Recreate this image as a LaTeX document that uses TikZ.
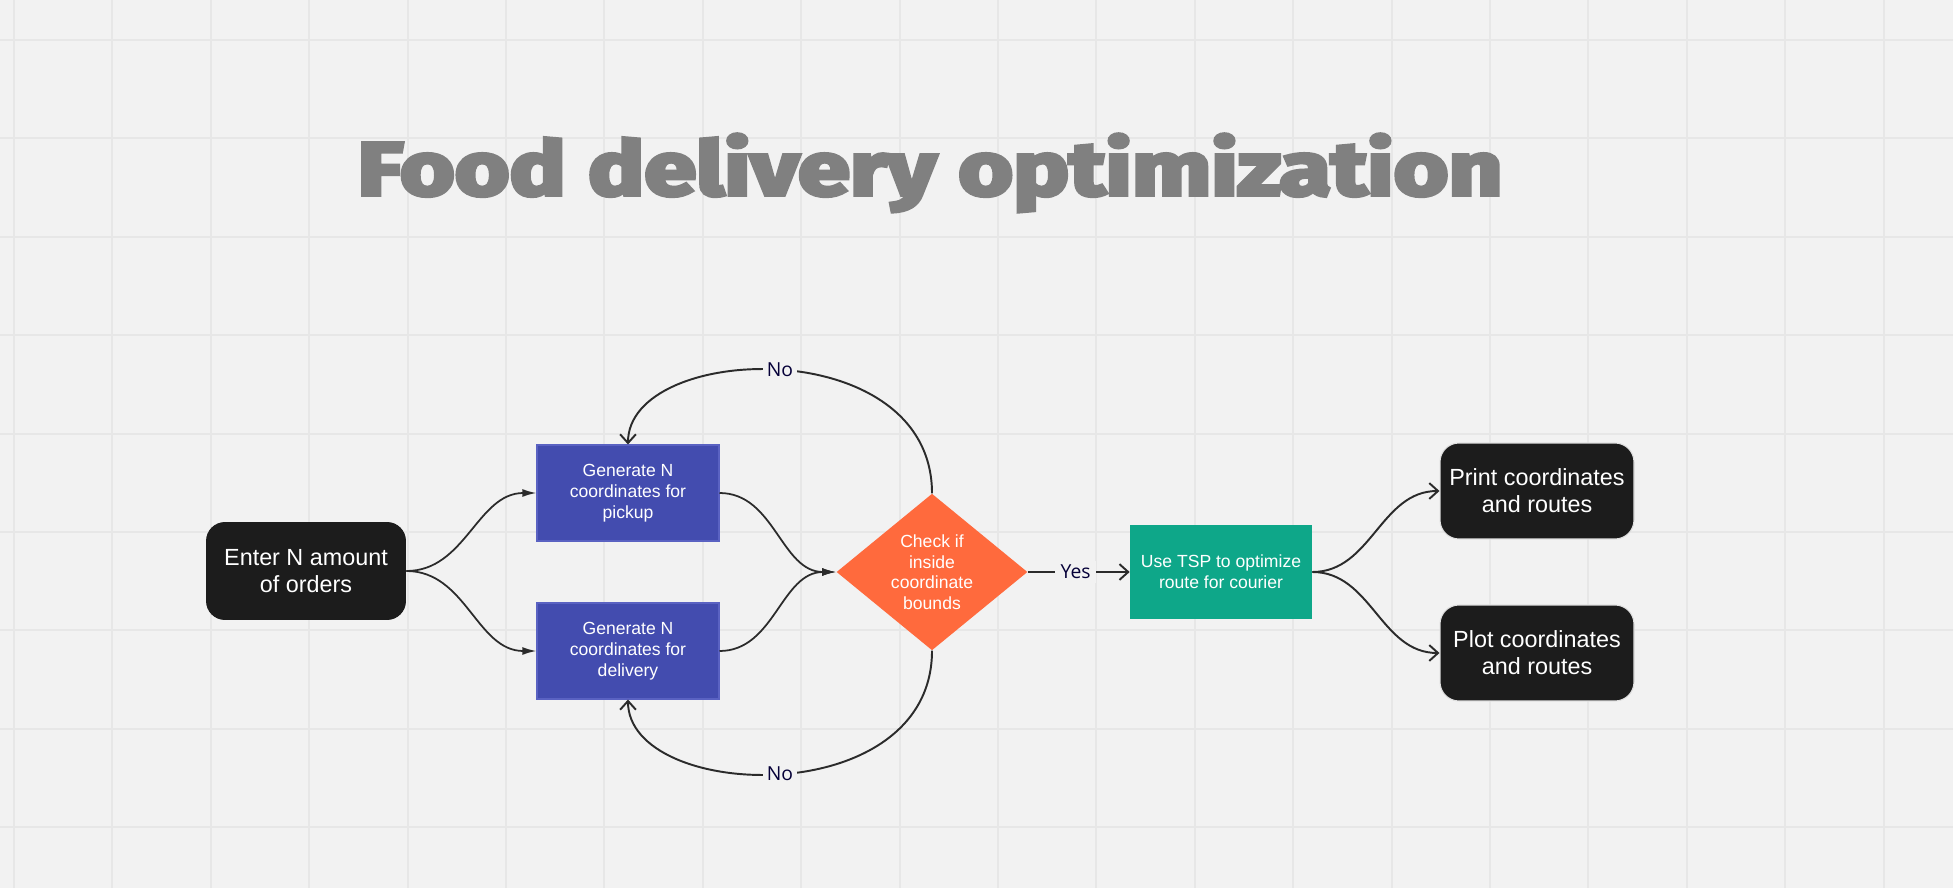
\documentclass[tikz,border=0pt]{standalone}
\usepackage{fontspec}
\setmainfont{Liberation Sans}
\newfontfamily\labelfont{Open Sans}
\newfontfamily\titlefont{Fira Sans}[BoldFeatures={FakeBold=5}]
\usetikzlibrary{shapes.geometric,arrows.meta}
\definecolor{bgc}{HTML}{F2F2F2}
\definecolor{gridc}{HTML}{E7E7E7}
\definecolor{darkbox}{HTML}{1C1C1C}
\definecolor{bluebox}{HTML}{434CAF}
\definecolor{blueedge}{HTML}{5A62C2}
\definecolor{orangebox}{HTML}{FF6A3D}
\definecolor{greenbox}{HTML}{0EA789}
\definecolor{linec}{HTML}{2B2B2B}
\definecolor{navy}{HTML}{050038}
\definecolor{titlec}{HTML}{808080}
\tikzset{
  darknode/.style={rectangle, rounded corners=0.38cm, fill=darkbox, text=white, align=center,
    font=\fontsize{13.3}{15.5}\selectfont, inner sep=0pt},
  bluenode/.style={rectangle, fill=bluebox, draw=blueedge, line width=0.6pt, text=white, align=center,
    minimum width=3.64cm, minimum height=1.92cm, font=\fontsize{10}{12}\selectfont, inner sep=0pt},
  decision/.style={diamond, fill=orangebox, text=white, align=center, inner sep=0pt,
    minimum width=3.82cm, minimum height=3.1cm, font=\fontsize{10}{11.7}\selectfont},
  greennode/.style={rectangle, fill=greenbox, text=white, align=center,
    minimum width=3.64cm, minimum height=1.9cm, font=\fontsize{10}{12}\selectfont, inner sep=0pt},
  filledarrow/.style={draw=linec, line width=1pt, -{Latex[length=8pt,width=4.5pt]}},
  openarrow/.style={draw=linec, line width=1.1pt, -{Straight Barb[length=5pt,width=9pt,line width=1.1pt]}},
  edgelabel/.style={fill=bgc, text=navy, font=\fontsize{11}{12}\labelfont, inner sep=2pt},
  gridline/.style={draw=gridc, line width=1.1pt}
}
\begin{document}
\begin{tikzpicture}[x=0.02cm,y=-0.02cm]
\fill[bgc] (0,0) rectangle (1953,888);
\useasboundingbox (0,0) rectangle (1953,888);
\foreach \i in {0,...,19} \draw[gridline] ({14+round(98.4*\i)},0) -- ({14+round(98.4*\i)},888);
\foreach \j in {0,...,8} \draw[gridline] (0,{40+round(98.4*\j)}) -- (1953,{40+round(98.4*\j)});

% title
\node[anchor=base, text=titlec, inner sep=0pt] (title) at (930,195)
  {\scalebox{1}[0.8]{\resizebox{22.9cm}{!}{\titlefont\bfseries Food delivery optimization}}};

% nodes
\node[darknode, minimum width=4cm, minimum height=1.96cm] (enter) at (306,571) {Enter N amount\\of orders};
\node[bluenode] (pick) at (628,493) {Generate N\\coordinates for\\pickup};
\node[bluenode] (deliv) at (628,651) {Generate N\\coordinates for\\delivery};
\node[decision] (check) at (932,572) {Check if\\inside\\coordinate\\bounds};
\node[greennode] (tsp) at (1221,572) {Use TSP to optimize\\route for courier};
\node[darknode, draw=white!88!black, line width=0.6pt, minimum width=3.88cm, minimum height=1.92cm] (print) at (1537,491) {Print coordinates\\and routes};
\node[darknode, draw=white!88!black, line width=0.6pt, minimum width=3.88cm, minimum height=1.92cm] (plot) at (1537,653) {Plot coordinates\\and routes};

% connectors
\draw[filledarrow] (enter.east) to[out=0,in=180] (pick.west);
\draw[filledarrow] (enter.east) to[out=0,in=180] (deliv.west);
\draw[filledarrow] (pick.east) to[out=0,in=180] (check.west);
\draw[filledarrow] (deliv.east) to[out=0,in=180] (check.west);

\draw[openarrow] (check.north) .. controls +(0,-162) and +(0,-102) .. (pick.north)
  node[edgelabel, pos=0.5] {No};
\draw[openarrow] (check.south) .. controls +(0,162) and +(0,102) .. (deliv.south)
  node[edgelabel, pos=0.5] {No};
\draw[openarrow] (check.east) -- (tsp.west) node[edgelabel, pos=0.47, inner xsep=3pt] {Yes};

\draw[openarrow] (tsp.east) to[out=0,in=180] (print.west);
\draw[openarrow] (tsp.east) to[out=0,in=180] (plot.west);
\end{tikzpicture}
\end{document}
